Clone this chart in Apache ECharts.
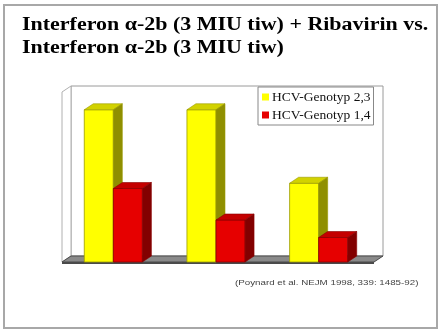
<!DOCTYPE html>
<html>
<head>
<meta charset="utf-8">
<script src="https://cdn.jsdelivr.net/npm/echarts@6/dist/echarts.min.js"></script>
<style>
  html, body { margin: 0; padding: 0; background: #fff; }
  #chart { width: 441px; height: 331px; }
</style>
</head>
<body>
<div id="chart"></div>
<script>
// data
var groups = ['A', 'B', 'C'];
var seriesNames = ['HCV-Genotyp 2,3', 'HCV-Genotyp 1,4'];
var genotyp23 = [87, 87, 45];
var genotyp14 = [42, 24, 14];
var titleText = 'Interferon \u03b1-2b (3 MIU tiw) + Ribavirin vs.\nInterferon \u03b1-2b (3 MIU tiw)';
var sourceText = '(Poynard et al. NEJM 1998, 339: 1485-92)';

// 3d look
var DX = 9, DY = -6;
var faces = [
  { front: '#ffff00', top: '#d2d200', side: '#8f8f00', line: '#9a9a00' },
  { front: '#e60000', top: '#c40000', side: '#820000', line: '#8a0000' }
];

var chart = echarts.init(document.getElementById('chart'));

function bar3d(side) {
  return function (params, api) {
    var cat = api.value(0), val = api.value(1);
    var top = api.coord([cat, val]);
    var base = api.coord([cat, 0]);
    var w = api.size([1, 0])[0] * 0.283;
    var x0 = side === 0 ? top[0] - w : top[0];
    var x1 = x0 + w;
    var c = faces[side];
    return {
      type: 'group',
      children: [
        { type: 'rect', shape: { x: x0, y: top[1], width: w, height: base[1] - top[1] },
          style: { fill: c.front, stroke: c.line, lineWidth: 0.8 } },
        { type: 'polygon', shape: { points: [[x0, top[1]], [x0 + DX, top[1] + DY], [x1 + DX, top[1] + DY], [x1, top[1]]] },
          style: { fill: c.top, stroke: c.line, lineWidth: 0.6 } },
        { type: 'polygon', shape: { points: [[x1, top[1]], [x1 + DX, top[1] + DY], [x1 + DX, base[1] + DY], [x1, base[1]]] },
          style: { fill: c.side, stroke: c.line, lineWidth: 0.6 } }
      ]
    };
  };
}

function walls(params) {
  var cs = params.coordSys;
  var l = cs.x, r = cs.x + cs.width, t = cs.y - 1, b = cs.y + cs.height;
  return {
    type: 'group',
    children: [
      { type: 'rect', shape: { x: l + DX, y: t, width: cs.width + 4, height: b + DY - t },
        style: { fill: '#fff', stroke: '#9a9a9a', lineWidth: 1 } },
      { type: 'polygon', shape: { points: [[l, t - DY], [l + DX, t], [l + DX, b + DY], [l, b]] },
        style: { fill: '#fff', stroke: '#b0b0b0', lineWidth: 1 } },
      { type: 'polygon', shape: { points: [[l, b], [l + DX, b + DY], [r + DX + 4, b + DY], [r + 4, b]] },
        style: { fill: '#8a8a8a', stroke: '#4a4a4a', lineWidth: 1 } },
      { type: 'rect', shape: { x: l, y: b, width: cs.width + 4, height: 2 },
        style: { fill: '#4a4a4a' } }
    ]
  };
}

var option = {
  backgroundColor: '#fff',
  animation: false,
  legend: {
    data: seriesNames,
    orient: 'vertical',
    left: 258,
    top: 87,
    icon: 'rect',
    itemWidth: 7,
    itemHeight: 7,
    itemGap: 4,
    padding: [3, 3, 3, 4],
    borderColor: '#888',
    borderWidth: 1,
    backgroundColor: '#fff',
    selectedMode: false,
    textStyle: { fontFamily: 'Liberation Serif', fontSize: 13.5, color: '#111', padding: [0, 0, 0, -2] }
  },
  grid: { left: 62, right: 71, top: 87, bottom: 69 },
  xAxis: { type: 'category', data: groups, show: false },
  yAxis: { type: 'value', min: 0, max: 100, show: false },
  graphic: [
    { type: 'rect', shape: { x: 4, y: 5, width: 433, height: 323 },
      style: { fill: 'none', stroke: '#a8a8a8', lineWidth: 2 }, z: 100 },
    { type: 'text', x: 22, y: 14, scaleX: 1.22,
      style: { text: titleText, fontFamily: 'Liberation Serif', fontWeight: 'bold', fontSize: 18, lineHeight: 23, fill: '#000' } },
    { type: 'text', x: 235, y: 279, scaleX: 1.22,
      style: { text: sourceText, fontFamily: 'Liberation Sans', fontSize: 8, fill: '#444' } }
  ],
  series: [
    { type: 'custom', silent: true, data: [[0, 0]], renderItem: walls, z: 1 },
    { type: 'custom', name: seriesNames[0], silent: true, itemStyle: { color: faces[0].front },
      data: genotyp23.map(function (v, i) { return [i, v]; }), renderItem: bar3d(0), z: 2 },
    { type: 'custom', name: seriesNames[1], silent: true, itemStyle: { color: faces[1].front },
      data: genotyp14.map(function (v, i) { return [i, v]; }), renderItem: bar3d(1), z: 3 }
  ]
};

chart.setOption(option);
</script>
</body>
</html>
